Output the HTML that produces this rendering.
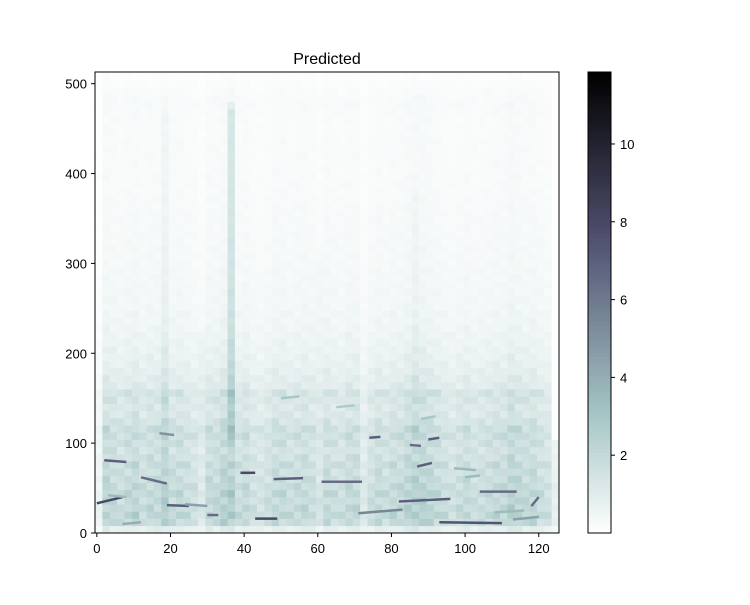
<!DOCTYPE html>
<html><head><meta charset="utf-8"><style>
body{margin:0;background:#fff;}
svg text{font-family:"Liberation Sans","DejaVu Sans",sans-serif;font-size:13px;fill:#000;}
</style></head><body>
<svg id="chart" width="750" height="600" viewBox="0 0 750 600">
<rect width="750" height="600" fill="#fff"/>
<text x="327" y="64" text-anchor="middle" style="font-size:16px">Predicted</text>
<g id="cells"></g>
<g id="segs"></g>
<rect x="95" y="72" width="464" height="461" fill="none" stroke="#000" stroke-width="1"/>
<g id="xaxis"></g>
<g id="yaxis"></g>
<g id="cbar"></g>
</svg>
<script>
const NS="http://www.w3.org/2000/svg";
const vmax=11.85;
// column multipliers, each covers 2 frames (63 entries)
const colProfile=[0.3,1.1,1.0,0.9,1.0,1.1,0.9,1.0,1.0,1.25,0.95,1.0,0.9,0.8,0.6,1.0,1.0,1.2,1.3,0.9,
1.0,0.8,0.75,0.85,1.0,1.0,0.9,0.95,1.0,0.9,0.7,1.0,0.9,0.85,1.0,1.0,0.6,0.85,1.0,0.9,
1.0,1.0,1.15,1.25,1.2,1.1,1.0,0.9,0.8,0.9,1.0,0.85,0.9,0.95,1.0,1.0,1.2,1.1,1.0,1.05,
0.9,0.8,0.4];
// row base values in colour units, each covers 8 bins (64 entries)
const rowProfile=[0.9,2.0,2.2,2.1,2.0,2.1,2.0,1.9,1.8,1.9,1.7,1.6,1.7,1.8,1.8,1.5,
1.3,1.3,1.4,1.5,1.1,1.0,0.9,0.8,0.75,0.7,0.65,0.6,0.55,0.5,0.5,0.45,
0.42,0.42,0.4,0.38,0.38,0.35,0.35,0.35,0.33,0.32,0.3,0.3,0.3,0.29,0.28,0.27,
0.27,0.27,0.26,0.25,0.25,0.25,0.25,0.24,0.24,0.24,0.26,0.28,0.26,0.22,0.18,0.12];
const texture=[1.1,0.85,1.0,1.2,0.9,1.05,0.8];
// vertical stripes (frame, top bin, added value)
const stripeX=[36,37,29,18,86,60];
const stripeTop=[480,470,220,470,380,300];
const stripeV=[0.55,0.5,0.25,0.2,0.15,0.15];
// harmonic segments (frames / bins / value)
const segX0=[0,19,12,2,39,48,61,43,74,85,90,87,82,104,93,30,71,17,118,7,24,113,50,65,88,97,100,3,108];
const segX1=[7,25,19,8,43,56,72,49,77,88,93,91,96,114,110,33,83,21,120,12,30,120,55,70,92,103,104,8,116];
const segY0=[33,31,62,81,67,60,57,16,106,98,104,74,35,46,12,20,22,111,30,10,32,15,150,140,127,72,62,42,23];
const segY1=[40,30,55,79,67,61,57,16,107,97,106,78,38,46,11,20,26,109,40,12,30,18,152,142,130,70,64,40,25];
const segV=[8,7,6.5,7,8,7,6.5,8,7,6.5,7,7,7,6.5,7.5,6.5,5.5,5,6.5,4,4.5,4.5,3,2.8,3,3.5,3.5,3.5,3.5];

const X=v=>95+(v+0.5)*464/126, Y=b=>533-b*461/513;
function bone(t){
  const lerp=(pts)=>{for(let i=1;i<pts.length;i++){if(t<=pts[i][0]){const a=pts[i-1],b=pts[i];return a[1]+(b[1]-a[1])*(t-a[0])/(b[0]-a[0]);}}return pts[pts.length-1][1];};
  const r=lerp([[0,0],[0.746,0.652],[1,1]]),g=lerp([[0,0],[0.365,0.319],[0.746,0.782],[1,1]]),b=lerp([[0,0],[0.365,0.444],[1,1]]);
  return `rgb(${Math.round(r*255)},${Math.round(g*255)},${Math.round(b*255)})`;
}
const cmap=v=>bone(1-Math.max(0,Math.min(1,v/vmax)));
const cells=document.getElementById('cells');
for(let c=0;c<colProfile.length;c++){
  for(let r=0;r<rowProfile.length;r++){
    let v=rowProfile[r]*colProfile[c]*texture[(r+c*3)%texture.length];
    const f=c*2,b=r*8;
    for(let s=0;s<stripeX.length;s++){ if((stripeX[s]===f||stripeX[s]===f+1)&&b<stripeTop[s]&&b>100) v+=stripeV[s]; }
    if(c===62&&b>100) v=0.05;
    const el=document.createElementNS(NS,'rect');
    
    
    const x0=X(f-0.5),x1=X(f+1.5),y0=Y(b+8),y1=Y(b);
    el.setAttribute('x',x0);el.setAttribute('y',y0);
    el.setAttribute('width',x1-x0+0.3);el.setAttribute('height',y1-y0+0.3);
    el.setAttribute('fill',cmap(v));
    cells.appendChild(el);
  }
}
const segs=document.getElementById('segs');
for(let i=0;i<segX0.length;i++){
  const el=document.createElementNS(NS,'line');
  
  
  el.setAttribute('x1',X(segX0[i]));el.setAttribute('x2',X(segX1[i]));
  el.setAttribute('y1',Y(segY0[i]));el.setAttribute('y2',Y(segY1[i]));
  el.setAttribute('stroke',cmap(segV[i]));el.setAttribute('stroke-width','2.5');
  segs.appendChild(el);
}
const xTicks=[0,20,40,60,80,100,120], yTicks=[0,100,200,300,400,500], cTicks=[2,4,6,8,10];
const xa=document.getElementById('xaxis'), ya=document.getElementById('yaxis');
xTicks.forEach(t=>{
  const x=X(t);
  const l=document.createElementNS(NS,'line');
  
  l.setAttribute('x1',x);l.setAttribute('x2',x);l.setAttribute('y1',533);l.setAttribute('y2',537);l.setAttribute('stroke','#000');
  xa.appendChild(l);
  const tx=document.createElementNS(NS,'text');
  
  tx.setAttribute('x',x);tx.setAttribute('y',553);tx.setAttribute('text-anchor','middle');tx.textContent=t;
  xa.appendChild(tx);
});
yTicks.forEach(t=>{
  const y=Y(t);
  const l=document.createElementNS(NS,'line');
  
  l.setAttribute('x1',91);l.setAttribute('x2',95);l.setAttribute('y1',y);l.setAttribute('y2',y);l.setAttribute('stroke','#000');
  ya.appendChild(l);
  const tx=document.createElementNS(NS,'text');
  
  tx.setAttribute('x',87);tx.setAttribute('y',y+5);tx.setAttribute('text-anchor','end');tx.textContent=t;
  ya.appendChild(tx);
});
const cb=document.getElementById('cbar');
const CY=v=>533-v*461/vmax;
for(let i=0;i<120;i++){
  const v0=i*vmax/120,v1=(i+1)*vmax/120;
  const el=document.createElementNS(NS,'rect');
  
  el.setAttribute('x',588);el.setAttribute('width',23);el.setAttribute('y',CY(v1));el.setAttribute('height',CY(v0)-CY(v1)+0.5);
  el.setAttribute('fill',cmap((v0+v1)/2));
  cb.appendChild(el);
}
const fr=document.createElementNS(NS,'rect');

fr.setAttribute('x',588);fr.setAttribute('y',72);fr.setAttribute('width',23);fr.setAttribute('height',461);fr.setAttribute('fill','none');fr.setAttribute('stroke','#000');
cb.appendChild(fr);
cTicks.forEach(t=>{
  const y=CY(t);
  const l=document.createElementNS(NS,'line');
  
  l.setAttribute('x1',611);l.setAttribute('x2',615);l.setAttribute('y1',y);l.setAttribute('y2',y);l.setAttribute('stroke','#000');
  cb.appendChild(l);
  const tx=document.createElementNS(NS,'text');
  
  tx.setAttribute('x',620);tx.setAttribute('y',y+5);tx.textContent=t;
  cb.appendChild(tx);
});
</script>
</body></html>
